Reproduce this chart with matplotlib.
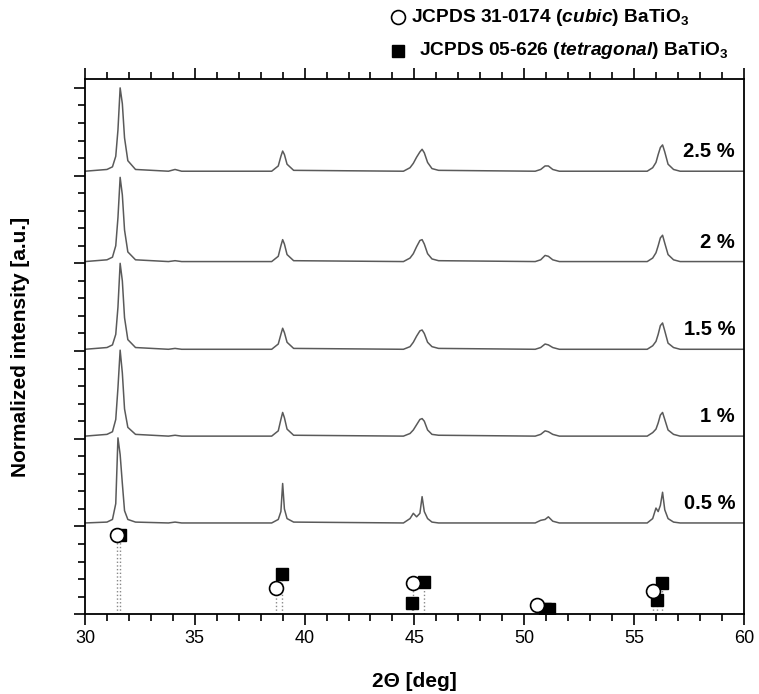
import matplotlib
matplotlib.use("Agg")
import matplotlib.pyplot as plt
from matplotlib.ticker import MultipleLocator, NullFormatter

plt.rcParams['font.family'] = ['Liberation Sans', 'DejaVu Sans']
plt.rcParams['mathtext.fontset'] = 'custom'
plt.rcParams['mathtext.rm'] = 'Liberation Sans:bold'
plt.rcParams['mathtext.it'] = 'Liberation Sans:italic:bold'
plt.rcParams['mathtext.bf'] = 'Liberation Sans:bold'

# 2-theta grid shared by all the measured patterns
two_theta = [30.0, 31.0, 31.25, 31.4, 31.5, 31.6, 31.7, 31.8, 31.95, 32.3,
             33.8, 34.1, 34.4,
             38.5, 38.8, 38.92, 39.0, 39.08, 39.2, 39.5,
             44.5, 44.8, 44.95, 45.1, 45.25, 45.35, 45.45, 45.6, 45.8, 46.1,
             50.5, 50.75, 50.95, 51.1, 51.3, 51.6,
             55.6, 55.85, 56.0, 56.1, 56.2, 56.3, 56.4, 56.55, 56.8, 57.1, 60.0]

# normalized intensities (above each pattern's own baseline)
int_05 = [0.00, 0.01, 0.04, 0.22, 0.97, 0.78, 0.45, 0.14, 0.04, 0.01,
          0.00, 0.01, 0.00,
          0.00, 0.04, 0.13, 0.45, 0.16, 0.05, 0.01,
          0.00, 0.05, 0.11, 0.07, 0.11, 0.30, 0.13, 0.05, 0.01, 0.00,
          0.00, 0.03, 0.04, 0.07, 0.02, 0.00,
          0.00, 0.05, 0.17, 0.13, 0.20, 0.35, 0.15, 0.05, 0.01, 0.00, 0.00]
int_10 = [0.00, 0.02, 0.05, 0.19, 0.55, 0.98, 0.72, 0.31, 0.10, 0.02,
          0.00, 0.01, 0.00,
          0.00, 0.06, 0.19, 0.27, 0.21, 0.08, 0.01,
          0.00, 0.03, 0.07, 0.13, 0.19, 0.20, 0.17, 0.07, 0.02, 0.01,
          0.00, 0.02, 0.06, 0.05, 0.02, 0.00,
          0.00, 0.04, 0.08, 0.15, 0.24, 0.27, 0.19, 0.07, 0.02, 0.00, 0.00]
int_15 = [0.00, 0.02, 0.05, 0.17, 0.48, 0.98, 0.78, 0.36, 0.11, 0.02,
          0.00, 0.01, 0.00,
          0.00, 0.06, 0.17, 0.24, 0.19, 0.08, 0.01,
          0.00, 0.03, 0.08, 0.15, 0.21, 0.22, 0.18, 0.08, 0.03, 0.01,
          0.00, 0.02, 0.06, 0.05, 0.02, 0.00,
          0.00, 0.04, 0.09, 0.17, 0.27, 0.30, 0.21, 0.07, 0.02, 0.00, 0.00]
int_20 = [0.00, 0.02, 0.05, 0.18, 0.50, 0.96, 0.76, 0.36, 0.11, 0.02,
          0.00, 0.01, 0.00,
          0.00, 0.06, 0.18, 0.25, 0.20, 0.08, 0.01,
          0.00, 0.04, 0.09, 0.17, 0.24, 0.25, 0.20, 0.09, 0.03, 0.01,
          0.00, 0.02, 0.07, 0.06, 0.02, 0.00,
          0.00, 0.04, 0.10, 0.18, 0.27, 0.30, 0.21, 0.08, 0.02, 0.00, 0.00]
int_25 = [0.00, 0.02, 0.05, 0.17, 0.47, 0.95, 0.77, 0.38, 0.12, 0.02,
          0.00, 0.02, 0.00,
          0.00, 0.06, 0.17, 0.23, 0.19, 0.08, 0.01,
          0.00, 0.04, 0.09, 0.16, 0.22, 0.25, 0.21, 0.10, 0.03, 0.01,
          0.00, 0.02, 0.06, 0.06, 0.02, 0.00,
          0.00, 0.04, 0.10, 0.19, 0.27, 0.30, 0.22, 0.08, 0.02, 0.00, 0.00]

patterns = [int_05, int_10, int_15, int_20, int_25]
baselines = [1.04, 2.03, 3.02, 4.02, 5.05]
sample_labels = ['0.5 %', '1 %', '1.5 %', '2 %', '2.5 %']

# reference cards
cubic_pos = [31.45, 38.7, 44.92, 50.6, 55.86]
cubic_int = [0.90, 0.30, 0.35, 0.10, 0.27]
tetra_pos = [31.6, 38.97, 44.9, 45.42, 50.95, 51.14, 56.06, 56.29]
tetra_int = [0.90, 0.46, 0.13, 0.37, 0.06, 0.06, 0.16, 0.36]

fig = plt.figure(figsize=(7.59, 6.94), dpi=100)
ax = fig.add_axes([0.112, 0.115, 0.868, 0.771])

for y, base, lab in zip(patterns, baselines, sample_labels):
    ax.plot(two_theta, [v + base for v in y], color='#5a5a5a', lw=1.1)
    ax.text(59.6, base + 0.22, lab, ha='right', va='center',
            fontsize=14.5, fontweight='bold')

for p, h in zip(cubic_pos + tetra_pos, cubic_int + tetra_int):
    ax.plot([p, p], [0, h], color='#888888', lw=1.0, ls=':')

ax.plot(tetra_pos, tetra_int, ls='none', marker='s', ms=9,
        mfc='black', mec='black', zorder=3)
ax.plot(cubic_pos, cubic_int, ls='none', marker='o', ms=10,
        mfc='white', mec='black', mew=1.2, zorder=4)

ax.set_xlim(30, 60)
ax.set_ylim(0, 6.1)
ax.xaxis.set_major_locator(MultipleLocator(5))
ax.xaxis.set_minor_locator(MultipleLocator(1))
ax.yaxis.set_major_locator(MultipleLocator(1))
ax.yaxis.set_minor_locator(MultipleLocator(0.2))
ax.yaxis.set_major_formatter(NullFormatter())
ax.tick_params(axis='x', which='both', direction='out', top=True,
               labeltop=False, labelsize=13, width=1.2)
ax.tick_params(axis='y', which='both', direction='out', right=False,
               width=1.2)
ax.tick_params(which='major', length=8)
ax.tick_params(which='minor', length=5)
for s in ax.spines.values():
    s.set_linewidth(1.3)

ax.set_xlabel('2Θ [deg]', fontsize=15, fontweight='bold', labelpad=18)
ax.set_ylabel('Normalized intensity [a.u.]', fontsize=15,
              fontweight='bold', labelpad=28)

# legend drawn above the frame
leg_ax = fig.add_axes([0.5, 0.9, 0.5, 0.1])
leg_ax.set_xlim(0, 1)
leg_ax.set_ylim(0, 1)
leg_ax.axis('off')
leg_ax.plot([0.049], [0.75], ls='none', marker='o', ms=10, mfc='white',
            mec='black', mew=1.2)
leg_ax.plot([0.049], [0.27], ls='none', marker='s', ms=9, mfc='black',
            mec='black')
leg_ax.text(0.084, 0.75, r'JCPDS 31-0174 ($\mathit{cubic}$) BaTiO$_3$',
            fontsize=13.8, fontweight='bold', va='center')
leg_ax.text(0.105, 0.27, r'JCPDS 05-626 ($\mathit{tetragonal}$) BaTiO$_3$',
            fontsize=13.8, fontweight='bold', va='center')

fig.savefig('out.png', dpi=100)
